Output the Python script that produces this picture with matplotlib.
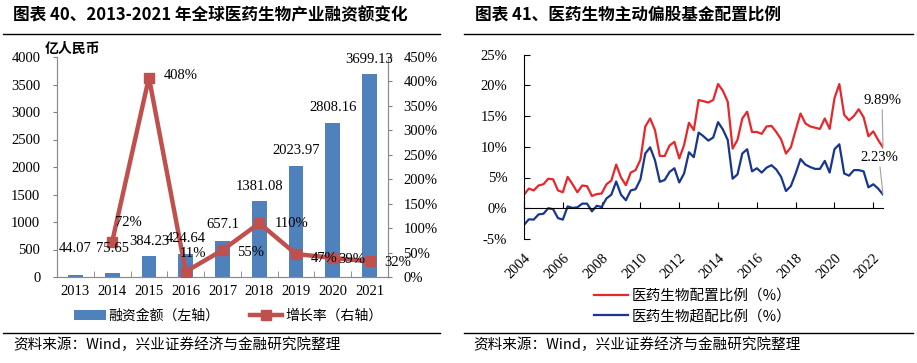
import numpy as np
import matplotlib.pyplot as plt
from matplotlib.lines import Line2D
from matplotlib.patches import Patch
from matplotlib.ticker import FuncFormatter

CJK = ['Noto Sans CJK SC', 'DejaVu Sans']
SERIF = 'Liberation Serif'

# ---- left chart data ----
years = ['2013', '2014', '2015', '2016', '2017', '2018', '2019', '2020', '2021']
amount = [44.07, 75.65, 384.23, 424.64, 657.1, 1381.08, 2023.97, 2808.16, 3699.13]
growth = [72, 408, 11, 55, 110, 47, 39, 32]   # from 2014 on

# ---- right chart data (quarterly, 2004Q1 - 2022Q3) ----
q_start = 2004
alloc = [2.2, 3.2, 2.9, 3.7, 3.9, 4.8, 4.7, 2.9, 2.6, 5.1,
         3.9, 2.6, 3.7, 3.6, 2.0, 2.3, 2.4, 3.9, 4.5, 7.1,
         5.0, 3.75, 5.8, 6.2, 7.9, 13.3, 14.6, 12.7, 8.5, 8.5,
         10.2, 10.8, 8.1, 10.3, 13.9, 12.7, 17.6, 17.4, 17.2, 17.6,
         20.2, 19.1, 17.3, 9.7, 11.1, 14.6, 15.7, 12.4, 12.4, 12.1,
         13.3, 13.4, 12.4, 11.2, 8.9, 9.9, 12.7, 15.4, 13.8, 13.3,
         13.1, 12.9, 14.6, 12.9, 17.9, 20.2, 15.2, 14.3, 15.0, 16.1,
         14.8, 11.7, 12.5, 11.1, 9.89]
over = [-2.7, -1.8, -1.85, -1.0, -0.9, 0.0, -0.15, -1.6, -1.85, 0.3,
        0.05, 0.15, 0.75, 0.75, -0.5, 0.4, 0.2, 1.6, 2.2, 4.35,
        2.2, 1.3, 2.9, 3.1, 4.7, 8.9, 9.9, 7.8, 4.3, 4.6,
        5.9, 6.5, 4.2, 5.65, 9.1, 8.3, 12.3, 11.7, 11.0, 11.5,
        14.0, 12.8, 11.1, 4.8, 5.5, 8.9, 9.6, 6.0, 6.5, 5.8,
        6.6, 7.0, 6.3, 5.1, 2.8, 3.6, 5.65, 8.0, 7.1, 6.7,
        6.4, 6.4, 7.7, 5.8, 9.6, 10.4, 5.65, 5.3, 6.2, 6.2,
        6.0, 3.4, 3.9, 3.2, 2.23]

W, H = 917, 363
fig = plt.figure(figsize=(W / 100, H / 100), dpi=100)


def fx(px):
    return px / W


def fy(py):
    return 1 - py / H


# ================= left chart =================
ax1 = fig.add_axes([fx(57), fy(277), fx(331), 220 / H])
x = np.arange(len(years))
ax1.bar(x, amount, width=0.4, color='#4F81BD', zorder=2)
ax1.set_xlim(-0.5, len(years) - 0.5)
ax1.set_ylim(0, 4000)
ax1.set_yticks(np.arange(0, 4001, 500))
ax1.set_xticks(x)
ax1.set_xticklabels(years)
ax1.set_xticks(np.arange(-0.5, len(years), 1), minor=True)
ax1.tick_params(axis='x', which='major', length=0, pad=6)
ax1.tick_params(axis='x', which='minor', length=4, direction='in', color='#7F7F7F')
ax1.tick_params(axis='y', length=3, color='#7F7F7F', pad=9)
for sp in ax1.spines.values():
    sp.set_color('#8C8C8C')
ax1.spines['top'].set_visible(False)

ax2 = ax1.twinx()
ax2.plot(x[1:], growth, color='#C0504D', lw=3.2, marker='s', ms=7, zorder=3)
ax2.set_ylim(0, 450)
ax2.set_yticks(np.arange(0, 451, 50))
ax2.yaxis.set_major_formatter(FuncFormatter(lambda v, p: f'{v:.0f}%'))
ax2.tick_params(axis='y', length=3, color='#7F7F7F', pad=8)
for sp in ax2.spines.values():
    sp.set_color('#8C8C8C')
ax2.spines['top'].set_visible(False)

for a in (ax1, ax2):
    for lab in a.get_xticklabels() + a.get_yticklabels():
        lab.set_fontfamily(SERIF)
        lab.set_fontsize(10.5)

# bar value labels (offsets in pixels), drawn on the twin so they sit above the line
bar_off = [26, 24, 14, 15, 16, 15, 15, 15, 14]
for i, v in enumerate(amount):
    ax2.annotate(f'{v:g}', (i, v), xycoords=ax1.transData, xytext=(0, bar_off[i]),
                 textcoords='offset pixels', ha='center', va='center',
                 family=SERIF, fontsize=10.5, zorder=5)

# growth labels
g_off = [(16, 19), (32, 2), (7, 18), (28, -2), (32, 0), (28, -4), (19, -2), (28, -1)]
for i, g in enumerate(growth):
    ax2.annotate(f'{g}%', (x[i + 1], g), xytext=g_off[i], textcoords='offset pixels',
                 ha='center', va='center', family=SERIF, fontsize=10.5, zorder=5)

fig.text(fx(45), fy(49), '亿人民币', family=CJK, fontsize=10, fontweight='bold',
         ha='left', va='center')

h1 = [Patch(facecolor='#4F81BD', edgecolor='none'),
      Line2D([], [], color='#C0504D', lw=3.2, marker='s', ms=7)]
fig.legend(h1, ['融资金额（左轴）', '增长率（右轴）'], loc='center',
           bbox_to_anchor=(fx(228), fy(316)), ncol=2, frameon=False,
           prop={'family': CJK, 'size': 10}, handlelength=2.3, handletextpad=0.2,
           columnspacing=2.2)

# ================= right chart =================
ax3 = fig.add_axes([fx(524), fy(239), fx(359), 184.5 / H])
qx = q_start + np.arange(len(alloc)) / 4
ax3.plot(qx, alloc, color='#E8262B', lw=1.6, label='医药生物配置比例（%）')
ax3.plot(qx, over, color='#16368F', lw=1.6, label='医药生物超配比例（%）')
ax3.set_xlim(q_start, qx[-1])
ax3.set_ylim(-5, 25)
ax3.set_yticks(np.arange(-5, 26, 5))
ax3.yaxis.set_major_formatter(FuncFormatter(lambda v, p: f'{v:.0f}%'))
ax3.set_xticks(np.arange(2004, 2023, 2))
ax3.spines['top'].set_visible(False)
ax3.spines['right'].set_visible(False)
ax3.spines['bottom'].set_position(('data', 0))
ax3.tick_params(axis='y', direction='in', length=4, pad=12)
ax3.tick_params(axis='x', direction='in', length=4, pad=31)
for lab in ax3.get_xticklabels():
    lab.set_rotation(45)
    lab.set_ha('right')
    lab.set_rotation_mode('anchor')
for lab in ax3.get_xticklabels() + ax3.get_yticklabels():
    lab.set_fontfamily(SERIF)
    lab.set_fontsize(10.5)

ax3.annotate(f'{alloc[-1]}%', (qx[-1], alloc[-1]), xytext=(-1, 47), textcoords='offset pixels',
             ha='center', va='center', family=SERIF, fontsize=10.5,
             arrowprops=dict(arrowstyle='-', color='#A0A0A0', lw=0.8, shrinkA=0, shrinkB=0))
ax3.annotate(f'{over[-1]}%', (qx[-1], over[-1]), xytext=(-4, 37), textcoords='offset pixels',
             ha='center', va='center', family=SERIF, fontsize=10.5,
             arrowprops=dict(arrowstyle='-', color='#A0A0A0', lw=0.8, shrinkA=0, shrinkB=0))

h2, l2 = ax3.get_legend_handles_labels()
fig.legend(h2, l2, loc='center', bbox_to_anchor=(fx(693), fy(306)), ncol=1, frameon=False,
           prop={'family': CJK, 'size': 10.5}, handlelength=2.3, handletextpad=0.3,
           labelspacing=0.45)

# ================= titles, rules, sources =================
fig.text(fx(13), fy(15), '图表 40、2013-2021 年全球医药生物产业融资额变化', family=CJK,
         fontsize=12, fontweight='bold', ha='left', va='center')
fig.text(fx(475), fy(15), '图表 41、医药生物主动偏股基金配置比例', family=CJK,
         fontsize=12, fontweight='bold', ha='left', va='center')
for x0, x1 in [(3, 440), (464, 913)]:
    for yy in (34, 333):
        fig.add_artist(Line2D([fx(x0), fx(x1)], [fy(yy), fy(yy)], transform=fig.transFigure,
                              color='black', lw=1.0))
for xs in (13, 473):
    fig.text(fx(xs), fy(345), '资料来源：Wind，兴业证券经济与金融研究院整理', family=CJK,
             fontsize=10.5, ha='left', va='center')

fig.savefig('out.png', dpi=100, facecolor='white')
